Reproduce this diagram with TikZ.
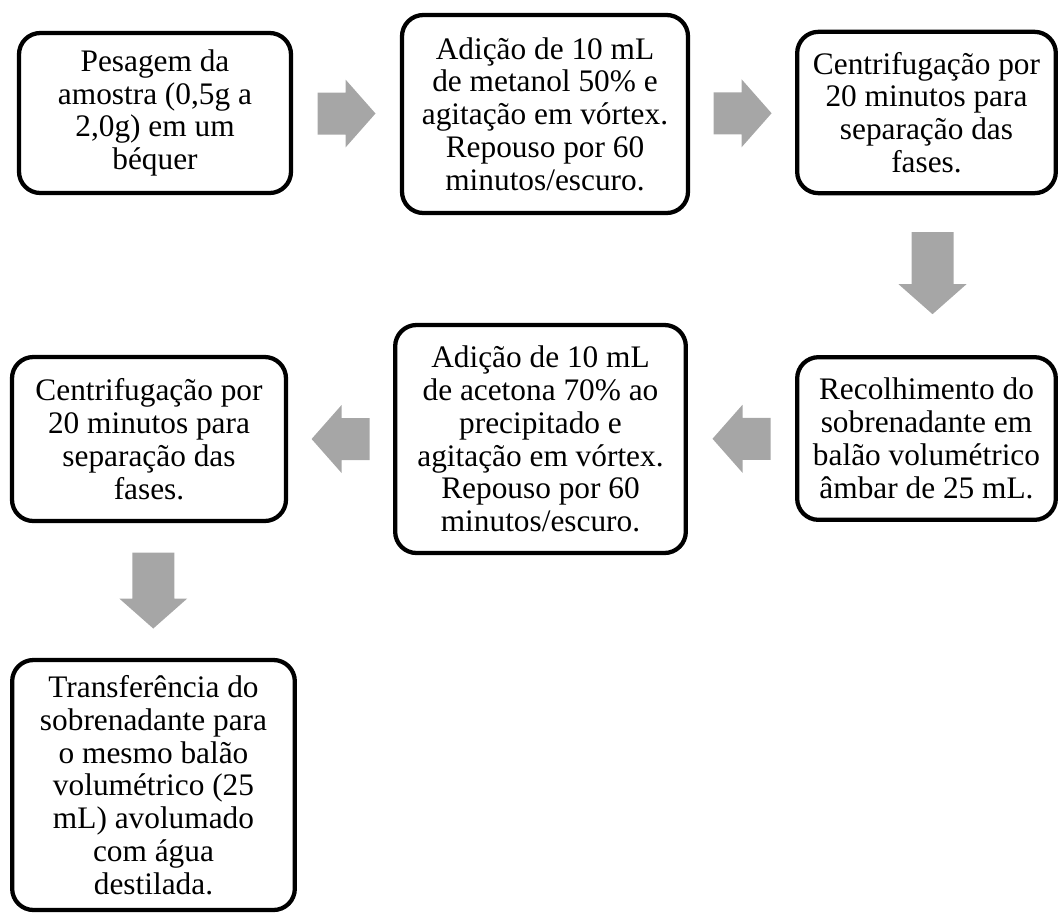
\documentclass[tikz,border=0pt]{standalone}
\usepackage{fontspec}
\setmainfont{Liberation Serif}
\usepackage{tikz}
\usetikzlibrary{calc}

\definecolor{setacinza}{HTML}{A6A6A6}

\tikzset{
    etapa/.style={draw, line width=3.2pt, rounded corners=16pt, fill=white, align=center,
        inner sep=0pt, font=\fontsize{23.5}{24.6}\selectfont},
    pics/seta/.style={code={%
        \fill[setacinza] (-#1,-21) -- ({#1-30},-21) -- ({#1-30},-34) -- (#1,0)
            -- ({#1-30},34) -- ({#1-30},21) -- (-#1,21) -- cycle;}}
}

\begin{document}
\begin{tikzpicture}[x=0.75pt, y=-0.75pt]
                \useasboundingbox (0,0) rectangle (1060,915);
                % linha de cima
                \node[etapa, minimum width=204pt, minimum height=120pt] (pesagem) at (155,113)
                    {Pesagem da\\amostra (0,5g a\\2,0g) em um\\béquer};
                \node[etapa, minimum width=214.5pt, minimum height=148.5pt] (metanol) at (545,114)
                    {Adição de 10 mL\\de metanol 50\% e\\agitação em vórtex.\\Repouso por 60\\minutos/escuro.};
                \node[etapa, minimum width=194pt, minimum height=121pt] (centrifA) at (926.5,112.5)
                    {Centrifugação por\\20 minutos para\\separação das\\fases.};
                % linha do meio
                \node[etapa, minimum width=194pt, minimum height=122pt] (recolhe) at (926.5,438.5)
                    {Recolhimento do\\sobrenadante em\\balão volumétrico\\âmbar de 25 mL.};
                \node[etapa, minimum width=218pt, minimum height=171pt] (acetona) at (540.5,439)
                    {Adição de 10 mL\\de acetona 70\% ao\\precipitado e\\agitação em vórtex.\\Repouso por 60\\minutos/escuro.};
                \node[etapa, minimum width=205.5pt, minimum height=123pt] (centrifB) at (149,439)
                    {Centrifugação por\\20 minutos para\\separação das\\fases.};
                % ultima etapa
                \node[etapa, minimum width=212pt, minimum height=187.5pt] (transfer) at (153.5,785)
                    {Transferência do\\sobrenadante para\\o mesmo balão\\volumétrico (25\\mL) avolumado\\com água\\destilada.};
                % setas
                \pic at ($(pesagem.east)!0.5!(metanol.west)$) {seta=29};
                \pic at ($(metanol.east)!0.5!(centrifA.west)$) {seta=29};
                \pic[rotate=-90] at ($(centrifA.south)!0.5!(recolhe.north)+(6,-2)$) {seta=41};
                \pic[rotate=180] at ($(recolhe.west)!0.5!(acetona.east)$) {seta=29};
                \pic[rotate=180] at ($(acetona.west)!0.5!(centrifB.east)$) {seta=29};
                \pic[rotate=-90] at ($(centrifB.south)!0.5!(transfer.north)+(2,0)$) {seta=38};
            \end{tikzpicture}
\end{document}
